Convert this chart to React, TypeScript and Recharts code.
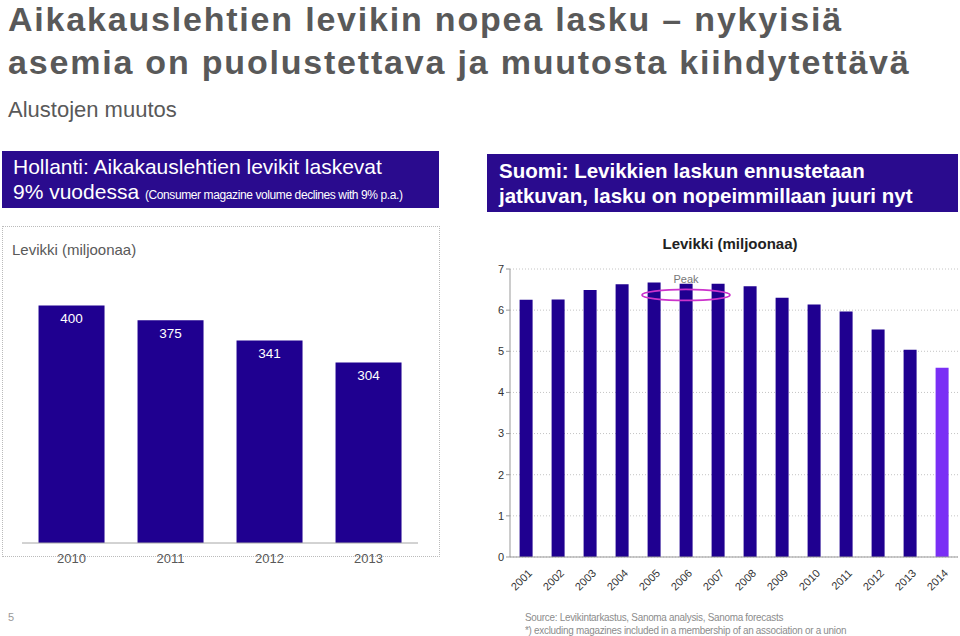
import React from "react";
import {
  BarChart,
  Bar,
  XAxis,
  YAxis,
  CartesianGrid,
  Cell,
  LabelList,
  ReferenceDot,
} from "recharts";

// ── Data ────────────────────────────────────────────────────────

const nlYears = ["2010", "2011", "2012", "2013"];
const nlValues = [400, 375, 341, 304];

const fiYears = [
  "2001", "2002", "2003", "2004", "2005", "2006", "2007",
  "2008", "2009", "2010", "2011", "2012", "2013", "2014",
];
const fiValues = [6.25, 6.26, 6.49, 6.63, 6.67, 6.64, 6.64, 6.58, 6.3, 6.14, 5.97, 5.53, 5.04, 4.6];
const fiForecast = ["2014"];
const fiTicks = [0, 1, 2, 3, 4, 5, 6, 7];

const nlData = nlYears.map((year, i) => ({ year, value: nlValues[i] }));
const fiData = fiYears.map((year, i) => ({ year, value: fiValues[i] }));

const DARK = "#1f0090";
const FORECAST = "#7a2ff5";
const BOX = "#2a0b8e";
const FONT = "'Liberation Sans', Arial, sans-serif";

// ── Rotated year ticks ──────────────────────────────────────────

function RotatedTick({ x, y, payload }: any) {
  return (
    <g transform={`translate(${x + 4},${y + 6})`}>
      <text
        textAnchor="end"
        transform="rotate(-45)"
        fontSize={11}
        fill="#333"
        fontFamily={FONT}
        dy={4}
      >
        {payload.value}
      </text>
    </g>
  );
}

function PeakEllipse({ cx, cy }: any) {
  return (
    <ellipse cx={cx} cy={cy} rx={44} ry={5.5} fill="none" stroke="#cc33cc" strokeWidth={1.8} />
  );
}

const titleStyle: React.CSSProperties = {
  position: "absolute",
  left: 8,
  fontSize: 34,
  lineHeight: "39px",
  fontWeight: "bold",
  letterSpacing: 1.8,
  color: "#595959",
  whiteSpace: "nowrap",
};

export default function App() {
  return (
    <div
      style={{
        position: "absolute",
        left: 0,
        top: 0,
        width: 960,
        height: 636,
        background: "#fff",
        fontFamily: FONT,
        overflow: "hidden",
      }}
    >
      {/* Header */}
      <div style={{ ...titleStyle, top: 0 }}>
        Aikakauslehtien levikin nopea lasku – nykyisiä
      </div>
      <div style={{ ...titleStyle, top: 43 }}>
        asemia on puolustettava ja muutosta kiihdytettävä
      </div>
      <div
        style={{
          position: "absolute",
          left: 8,
          top: 97,
          fontSize: 22,
          lineHeight: "26px",
          color: "#595959",
        }}
      >
        Alustojen muutos
      </div>

      {/* Box left */}
      <div
        style={{
          position: "absolute",
          left: 2,
          top: 151,
          width: 437,
          height: 57,
          background: BOX,
          color: "#fff",
          boxSizing: "border-box",
          paddingLeft: 11,
          paddingTop: 3,
          fontSize: 21,
          lineHeight: "25px",
          whiteSpace: "nowrap",
        }}
      >
        Hollanti: Aikakauslehtien levikit laskevat
        <br />
        9% vuodessa{" "}
        <span style={{ fontSize: 12, letterSpacing: -0.4 }}>
          (Consumer magazine volume declines with 9% p.a.)
        </span>
      </div>

      {/* Box right */}
      <div
        style={{
          position: "absolute",
          left: 487,
          top: 154,
          width: 471,
          height: 58,
          background: BOX,
          color: "#fff",
          boxSizing: "border-box",
          paddingLeft: 12,
          paddingTop: 4,
          fontSize: 20.5,
          fontWeight: "bold",
          lineHeight: "25px",
          whiteSpace: "nowrap",
        }}
      >
        Suomi: Levikkien laskun ennustetaan
        <br />
        jatkuvan, lasku on nopeimmillaan juuri nyt
      </div>

      {/* Left chart frame */}
      <div
        style={{
          position: "absolute",
          left: 2,
          top: 226,
          width: 438,
          height: 331,
          border: "1px dotted #bbb",
          boxSizing: "border-box",
        }}
      />
      <div
        style={{
          position: "absolute",
          left: 12,
          top: 241,
          fontSize: 15,
          lineHeight: "18px",
          color: "#595959",
        }}
      >
        Levikki (miljoonaa)
      </div>
      <div style={{ position: "absolute", left: 0, top: 226 }}>
        <BarChart
          width={440}
          height={345}
          data={nlData}
          margin={{ top: 20, right: 22, left: 22, bottom: 0 }}
          barCategoryGap="16.7%"
        >
          <XAxis
            dataKey="year"
            axisLine={{ stroke: "#a6a6a6" }}
            tickLine={false}
            tick={{ fill: "#595959", fontSize: 13, fontFamily: FONT, dy: 3 }}
            height={28}
          />
          <YAxis hide domain={[0, 500]} />
          <Bar dataKey="value" fill={DARK} isAnimationActive={false}>
            <LabelList
              dataKey="value"
              position="insideTop"
              offset={8}
              fill="#fff"
              fontSize={13.5}
              fontFamily={FONT}
            />
          </Bar>
        </BarChart>
      </div>

      {/* Right chart */}
      <div
        style={{
          position: "absolute",
          left: 480,
          top: 235,
          width: 480,
          textAlign: "center",
          fontSize: 15,
          lineHeight: "18px",
          fontWeight: "bold",
          color: "#222",
          paddingLeft: 20,
          boxSizing: "border-box",
        }}
      >
        Levikki (miljoonaa)
      </div>
      <div style={{ position: "absolute", left: 480, top: 230 }}>
        <BarChart
          width={480}
          height={372}
          data={fiData}
          margin={{ top: 39, right: 2, left: 0, bottom: 0 }}
          barCategoryGap="30%"
        >
          <CartesianGrid vertical={false} stroke="#c4c4c4" strokeDasharray="1 2" />
          <XAxis
            dataKey="year"
            axisLine={{ stroke: "#999" }}
            tickLine={false}
            tick={<RotatedTick />}
            height={45}
            interval={0}
          />
          <YAxis
            width={30}
            domain={[0, 7]}
            ticks={fiTicks}
            axisLine={{ stroke: "#999" }}
            tickLine={{ stroke: "#999" }}
            tickSize={4}
            tick={{ fill: "#333", fontSize: 11, fontFamily: FONT }}
          />
          <Bar dataKey="value" isAnimationActive={false}>
            {fiData.map((d) => (
              <Cell key={d.year} fill={fiForecast.includes(d.year) ? FORECAST : DARK} />
            ))}
          </Bar>
          <ReferenceDot
            x="2006"
            y={6.37}
            shape={<PeakEllipse />}
            isFront
          />
          <ReferenceDot
            x="2006"
            y={6.76}
            r={0}
            fill="none"
            stroke="none"
            label={{ value: "Peak", position: "center", fill: "#777", fontSize: 11, fontFamily: FONT }}
          />
        </BarChart>
      </div>

      {/* Footer */}
      <div
        style={{
          position: "absolute",
          left: 8,
          top: 611,
          fontSize: 11,
          color: "#999",
        }}
      >
        5
      </div>
      <div
        style={{
          position: "absolute",
          left: 525,
          top: 611,
          fontSize: 11,
          lineHeight: "13px",
          color: "#8c8c8c",
          letterSpacing: -0.3,
          whiteSpace: "nowrap",
          transform: "scaleX(0.9)",
          transformOrigin: "left top",
        }}
      >
        Source: Levikintarkastus, Sanoma analysis, Sanoma forecasts
        <br />
        *) excluding magazines  included in a membership of an association or a union
      </div>
    </div>
  );
}
